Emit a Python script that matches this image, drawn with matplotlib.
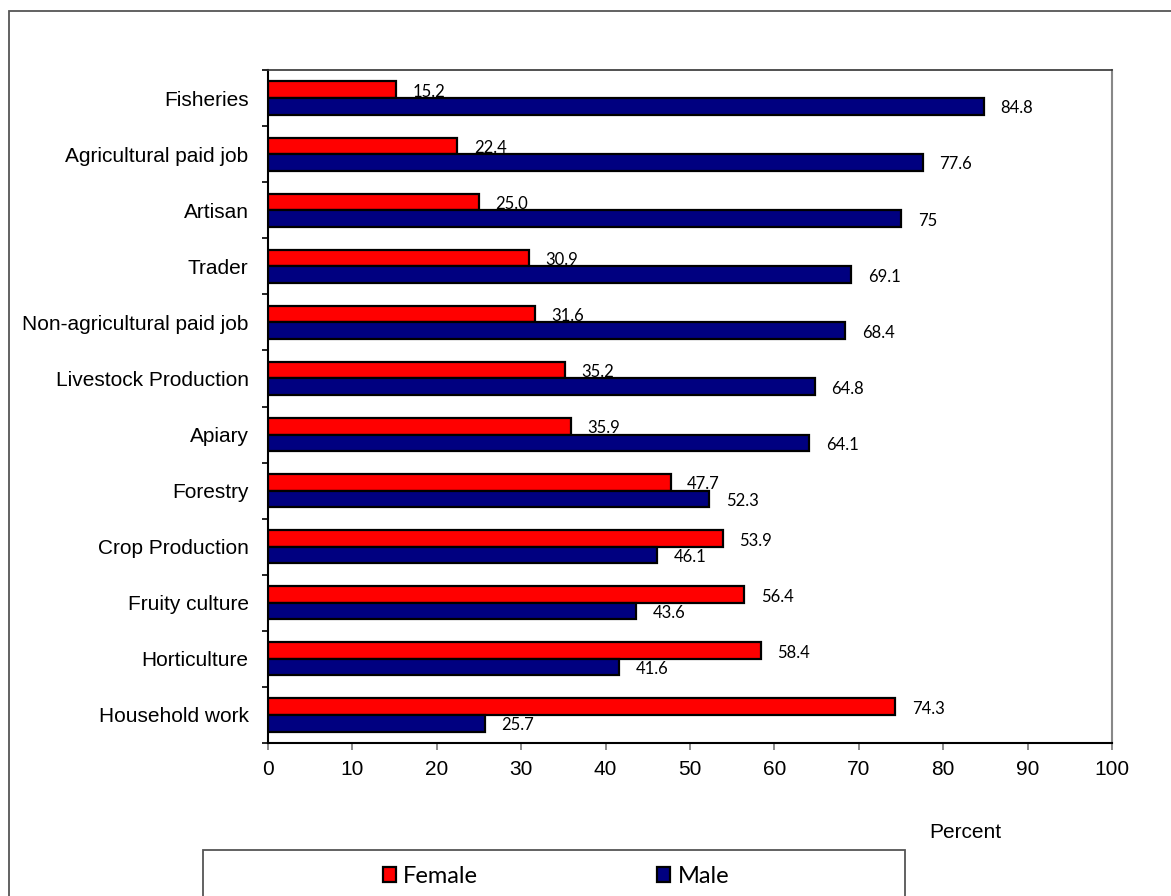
import matplotlib
matplotlib.use("Agg")
import matplotlib.pyplot as plt
from matplotlib.patches import Rectangle
import numpy as np

# Activities, listed top to bottom
categories = [
    "Fisheries", "Agricultural paid job", "Artisan", "Trader",
    "Non-agricultural paid job", "Livestock Production", "Apiary",
    "Forestry", "Crop Production", "Fruity culture", "Horticulture",
    "Household work",
]
female = [15.2, 22.4, 25.0, 30.9, 31.6, 35.2, 35.9, 47.7, 53.9, 56.4, 58.4, 74.3]
male = [84.8, 77.6, 75, 69.1, 68.4, 64.8, 64.1, 52.3, 46.1, 43.6, 41.6, 25.7]
female_labels = ["15.2", "22.4", "25.0", "30.9", "31.6", "35.2", "35.9",
                 "47.7", "53.9", "56.4", "58.4", "74.3"]
male_labels = ["84.8", "77.6", "75", "69.1", "68.4", "64.8", "64.1",
               "52.3", "46.1", "43.6", "41.6", "25.7"]
x_ticks = [0, 10, 20, 30, 40, 50, 60, 70, 80, 90, 100]

W, H = 1171, 896
fig = plt.figure(figsize=(W / 100, H / 100), dpi=100)
fig.patch.set_facecolor("white")

ax = fig.add_axes([268 / W, 1 - 743 / H, (1112 - 268) / W, (743 - 70) / H])

y = np.arange(len(categories))
h = 0.295
label_font = dict(family=["Lato", "DejaVu Sans"], size=12, color="black")

bf = ax.barh(y - h / 2, female, height=h, color="#FF0000", edgecolor="black",
             linewidth=1.6, zorder=3, label="Female")
bm = ax.barh(y + h / 2, male, height=h, color="#000080", edgecolor="black",
             linewidth=1.6, zorder=3, label="Male")

for bars, texts in ((bf, female_labels), (bm, male_labels)):
    for rect, t in zip(bars, texts):
        ax.annotate(t, (rect.get_width(), rect.get_y() + rect.get_height() / 2),
                    xytext=(12, -1.5), textcoords="offset points",
                    ha="left", va="center", zorder=2, **label_font)

ax.set_xlim(0, 100)
ax.set_ylim(len(categories) - 0.5, -0.5)

tick_font = ["Liberation Sans", "DejaVu Sans"]
ax.set_xticks(x_ticks)
ax.set_xticklabels([str(v) for v in x_ticks], fontfamily=tick_font, fontsize=15)
ax.tick_params(axis="x", length=5, width=1.2, color="#777777", pad=7)

ax.set_yticks(y)
ax.set_yticklabels(categories, fontfamily=tick_font, fontsize=15)
ax.tick_params(axis="y", which="major", length=0, pad=14)
ax.set_yticks(np.arange(len(categories) + 1) - 0.5, minor=True)
ax.tick_params(axis="y", which="minor", length=4, width=1.2, color="black")

for side in ("left", "bottom"):
    ax.spines[side].set_color("black")
    ax.spines[side].set_linewidth(1.5)
ax.spines["top"].set_color("#333333")
ax.spines["top"].set_linewidth(1.2)
ax.spines["right"].set_color("#888888")
ax.spines["right"].set_linewidth(1.5)

ax.set_xlabel("Percent", fontfamily=tick_font, fontsize=15)
ax.xaxis.set_label_coords(0.826, -0.119)

# Outer chart border (continues past the right and bottom edges)
fig.patches.append(Rectangle((9 / W, -0.2), 1.2, 1 - 11 / H + 0.2,
                             transform=fig.transFigure, fill=False,
                             edgecolor="#555555", linewidth=1.3))

# Legend frame
fig.patches.append(Rectangle((203 / W, -0.2), (905 - 203) / W, 1 - 850 / H + 0.2,
                             transform=fig.transFigure, fill=False,
                             edgecolor="#555555", linewidth=1.3))

fig.legend(handles=[bf, bm], labels=["Female", "Male"], loc="center",
           bbox_to_anchor=(556 / W, 1 - 876 / H), ncol=2, frameon=False,
           prop=dict(family=["Lato", "DejaVu Sans"], size=17),
           handlelength=0.55, handleheight=0.6, handletextpad=0.3,
           columnspacing=7.6)

fig.savefig("out.png", dpi=100, facecolor="white")
